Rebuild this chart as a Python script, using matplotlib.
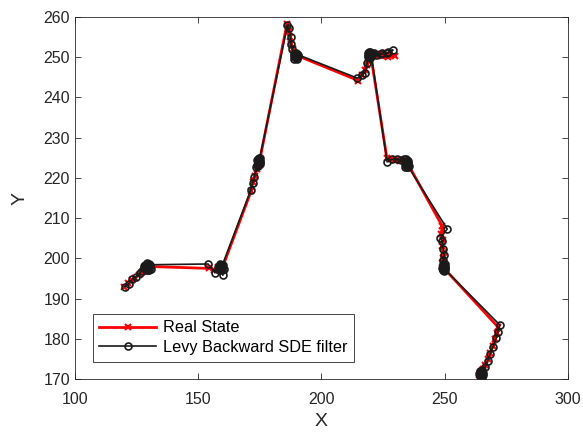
import numpy as np
import matplotlib.pyplot as plt

plt.rcParams['font.family'] = ['Liberation Sans', 'DejaVu Sans']

# real state trajectory
real_x = [120.0, 121.5, 123.0, 124.5, 126.0, 127.0,
          128.0, 129.0, 130.0, 129.5, 128.5, 129.8, 130.5, 129.2,
          154.5,
          156.5, 158.0, 159.5, 160.0, 159.0, 160.5, 159.8,
          171.5, 172.2, 173.0, 173.8,
          174.2, 174.8, 174.5, 175.0, 174.3, 174.9,
          186.0, 186.8, 187.3, 187.8, 188.3,
          188.8, 189.3, 189.8, 189.0, 189.6, 190.2,
          215.0, 216.5, 217.5, 218.3,
          219.0, 219.6, 220.0, 219.3, 220.3,
          222.0, 224.5, 227.0, 230.0, 227.5, 224.0, 221.0, 220.0,
          226.5, 228.0, 230.0, 232.0,
          233.5, 234.5, 235.0, 234.2, 235.2, 234.6,
          249.0, 248.5, 249.2, 248.8, 249.5, 249.2,
          249.0, 249.8, 249.3, 250.0, 249.6, 250.2,
          271.5, 271.0, 270.2, 269.5, 268.5, 267.5, 266.5, 265.5,
          264.8, 264.0, 265.2, 264.5, 265.0, 264.3]
real_y = [192.8, 193.8, 194.5, 195.2, 195.9, 196.6,
          197.0, 197.4, 197.8, 198.2, 197.9, 197.3, 197.6, 198.0,
          197.5,
          197.2, 197.8, 197.3, 198.0, 197.6, 197.2, 197.7,
          216.8, 219.0, 220.5, 222.3,
          223.0, 223.8, 224.5, 223.5, 224.0, 224.3,
          258.3, 256.5, 255.0, 253.3, 252.0,
          251.0, 250.3, 250.6, 249.8, 250.0, 250.4,
          244.2, 245.5, 246.8, 248.2,
          249.8, 250.6, 250.0, 250.9, 250.5,
          250.2, 250.3, 250.1, 250.3, 250.6, 250.7, 250.8, 250.5,
          225.0, 224.6, 224.5, 224.3,
          224.5, 223.5, 224.3, 223.0, 223.2, 224.0,
          208.0, 206.0, 204.5, 203.0, 201.5, 200.0,
          198.8, 198.0, 197.3, 197.8, 198.5, 197.2,
          183.0, 181.5, 180.0, 178.2, 176.5, 175.0, 173.5, 172.5,
          171.8, 171.0, 171.2, 170.6, 172.0, 171.5]

# filter estimate
est_x = [120.2, 121.8, 123.2, 124.6, 126.2, 127.2,
         128.2, 129.3, 130.2, 129.6, 128.6, 130.0, 130.6, 129.4, 128.0, 129.0,
         130.4, 129.8, 128.8, 130.8, 129.2,
         154.0,
         156.8, 158.2, 159.6, 160.2, 158.8, 160.0, 159.4, 158.6, 159.2, 159.8,
         158.4, 160.4, 159.0, 159.6,
         171.3, 172.1, 172.8, 173.6,
         174.0, 174.9, 174.4, 175.1, 174.2, 174.8, 174.5, 175.2, 174.0, 174.6,
         175.0, 174.3,
         186.2, 186.7, 187.5, 187.6, 188.2,
         188.8, 189.4, 190.0, 189.0, 189.8, 190.4, 189.2, 189.6, 190.2, 188.9,
         189.7, 190.6,
         214.6, 216.4, 217.6, 218.5,
         218.8, 219.5, 220.1, 219.2, 220.4, 219.0, 219.8, 220.2, 219.4, 218.9,
         219.6,
         222.3, 224.5, 226.6, 229.0, 227.0, 224.0, 221.4, 220.2,
         226.6, 228.4, 230.6, 232.2,
         233.4, 234.4, 235.2, 234.0, 235.4, 234.8, 234.2, 234.6, 235.0, 233.8,
         234.4, 235.2,
         251.0, 248.2, 249.0, 249.4, 249.8, 249.4,
         249.2, 250.0, 249.4, 250.3, 249.6, 250.2, 249.0, 249.8, 249.4, 250.0,
         249.2, 249.8,
         272.4, 271.6, 270.8, 269.6, 268.4, 267.4, 266.3, 265.3,
         265.0, 264.2, 265.4, 264.6, 265.2, 264.2, 264.8, 265.6, 264.4, 265.0,
         264.0, 265.2]
est_y = [193.0, 193.6, 194.8, 195.4, 196.3, 196.9,
         197.5, 198.2, 198.6, 197.2, 198.4, 197.0, 198.0, 198.8, 198.0, 197.6,
         198.4, 197.6, 197.0, 197.4, 198.4,
         198.6,
         196.4, 197.9, 197.0, 198.3, 197.4, 195.8, 198.4, 198.2, 197.8, 197.6,
         197.0, 197.4, 198.6, 198.0,
         217.0, 218.8, 220.2, 222.6,
         223.2, 224.2, 224.8, 223.4, 223.9, 224.6, 223.6, 224.0, 224.4, 225.0,
         224.9, 223.0,
         258.0, 257.2, 255.0, 253.2, 252.0,
         250.8, 250.0, 250.9, 249.6, 249.8, 250.3, 250.4, 251.0, 249.6, 250.2,
         250.4, 250.6,
         244.8, 245.6, 246.2, 248.5,
         250.0, 251.0, 250.2, 251.2, 250.8, 250.6, 251.4, 251.0, 250.4, 251.0,
         249.8,
         250.6, 251.0, 251.0, 251.8, 251.2, 250.8, 251.0, 250.6,
         224.0, 224.6, 224.7, 224.4,
         224.6, 223.4, 224.3, 222.8, 223.0, 224.2, 224.0, 222.6, 223.6, 223.4,
         224.8, 222.8,
         207.3, 205.0, 204.2, 202.3, 200.8, 199.5,
         198.6, 197.8, 197.0, 197.6, 198.3, 197.0, 197.6, 196.8, 198.0, 198.6,
         197.2, 197.4,
         183.4, 181.8, 180.2, 178.0, 176.2, 174.4, 173.0, 172.3,
         171.6, 170.8, 171.0, 170.4, 172.0, 171.4, 170.6, 171.6, 172.0, 170.9,
         171.2, 170.4]

fig = plt.figure(figsize=(5.83, 4.34), dpi=100)
ax = fig.add_axes([0.1286, 0.1267, 0.8457, 0.834])

ax.plot(real_x, real_y, '-x', color='#ff0000', lw=2, ms=5, mew=1.5, label='Real State')
ax.plot(est_x, est_y, '-o', color='#1a1a1a', lw=1.2, ms=5, mfc='none', mew=1.2,
        label='Levy Backward SDE filter')

ax.set_xlim(100, 300)
ax.set_ylim(170, 260)
ax.set_xticks(np.arange(100, 301, 50))
ax.set_yticks(np.arange(170, 261, 10))
ax.set_xlabel('X', fontsize=14, color='#262626', labelpad=5)
ax.set_ylabel('Y', fontsize=14, color='#262626', labelpad=11)
ax.tick_params(direction='in', top=True, right=True, labelsize=11.5, colors='#262626',
               length=4, width=0.6)
ax.tick_params(axis='x', pad=9)
for s in ax.spines.values():
    s.set_color('#262626')
    s.set_linewidth(0.6)

leg = ax.legend(loc='lower left', bbox_to_anchor=(0.036, 0.048), fontsize=11.7,
                fancybox=False, framealpha=1, edgecolor='#262626', handlelength=3.5,
                borderaxespad=0, labelspacing=0.3, borderpad=0.4, handletextpad=0.4)
leg.get_frame().set_linewidth(0.6)

fig.savefig('out.png', dpi=100)
